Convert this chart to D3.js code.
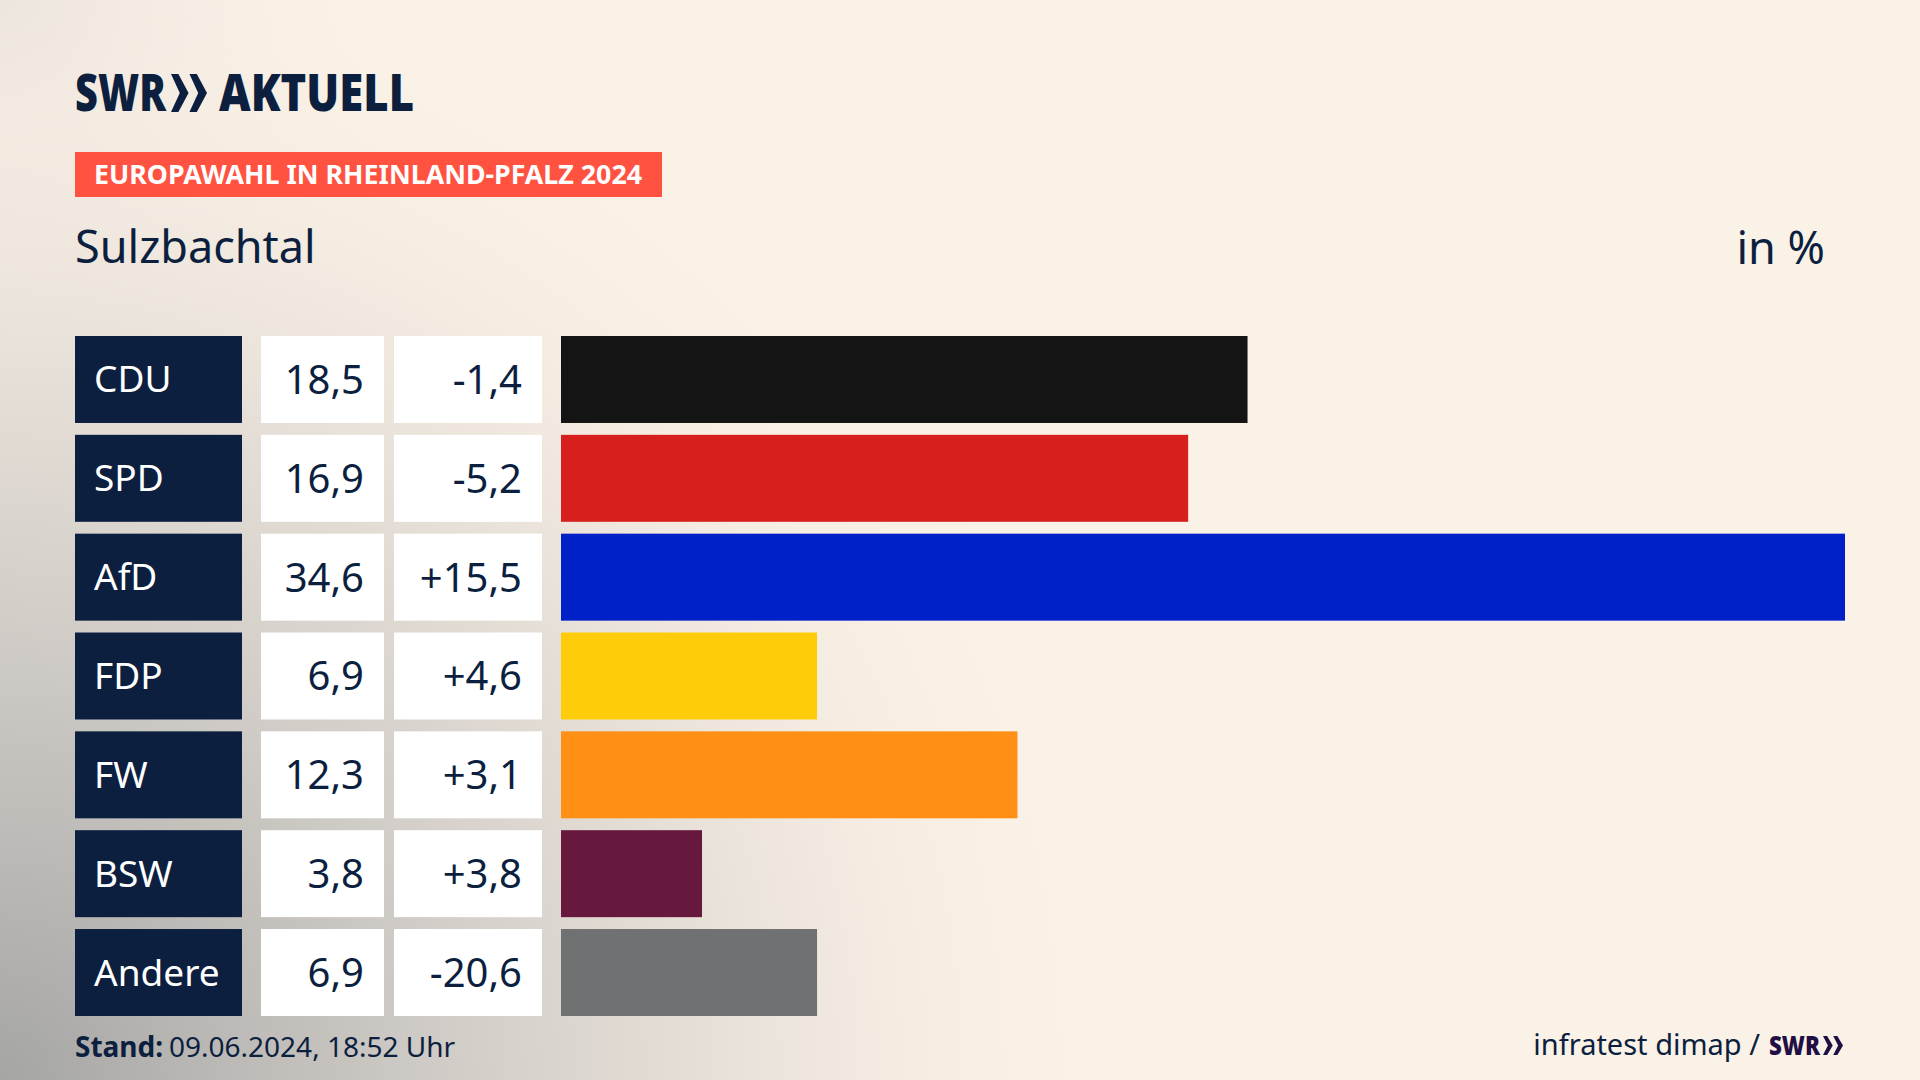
<!DOCTYPE html>
<html lang="de"><head><meta charset="utf-8">
<script src="https://cdn.jsdelivr.net/npm/d3@7/dist/d3.min.js"></script>
<style>html,body{margin:0;padding:0;background:#FAF1E7}svg{display:block}text{font-family:"Noto Sans",sans-serif}</style>
</head><body><svg id="c" width="1920" height="1080"></svg>
<script>
const parties = ["CDU","SPD","AfD","FDP","FW","BSW","Andere"];
const shares = [18.5,16.9,34.6,6.9,12.3,3.8,6.9];
const changes = [-1.4,-5.2,15.5,4.6,3.1,3.8,-20.6];
const partyColors = ["#141414","#D7201D","#0021C8","#FFCC0A","#FF9015","#66183D","#707173"];
const badge = "EUROPAWAHL IN RHEINLAND-PFALZ 2024";
const subject = "Sulzbachtal";
const unit = "in %";
const stand = ["Stand:","09.06.2024, 18:52 Uhr"];
const source = "infratest dimap /";

const NAVY="#0C1F3F", W=1920, H=1080;
const svg=d3.select("#c"), defs=svg.append("defs");
const grad=(id,cx,cy,r,stops)=>{const g=defs.append("radialGradient").attr("id",id).attr("gradientUnits","userSpaceOnUse").attr("cx",cx).attr("cy",cy).attr("r",r);
  stops.forEach(s=>g.append("stop").attr("offset",s[0]).attr("stop-color",s[1]).attr("stop-opacity",s[2]));};
grad("g1",0,1080,1150,[[0,"#A5A5A4",1],[0.3,"#C4C1BD",0.95],[0.6,"#DFD9D2",0.8],[0.85,"#F3EADF",0.35],[1,"#FAF1E7",0]]);
grad("g2",0,0,420,[[0,"#E9E2DA",0.9],[1,"#FAF1E7",0]]);
svg.append("rect").attr("width",W).attr("height",H).attr("fill","#FAF1E7");
svg.append("rect").attr("width",W).attr("height",H).attr("fill","url(#g2)");
svg.append("rect").attr("width",W).attr("height",H).attr("fill","url(#g1)");

const fit=(sel,len)=>sel.attr("textLength",len).attr("lengthAdjust","spacingAndGlyphs");
// logo
const chev=(g,x,y,w,h,fill)=>{const u=w/2.05;
  [0,1.05].forEach(k=>g.append("path").attr("fill",fill).attr("d",d3.line()([[x+k*u,y],[x+k*u+u*0.42,y],[x+k*u+u,y+h/2],[x+k*u+u*0.42,y+h],[x+k*u,y+h],[x+k*u+u*0.5,y+h/2]])+"Z"));};
fit(svg.append("text").attr("x",75).attr("y",111).attr("font-size",52).attr("font-weight",900).attr("fill",NAVY).text("SWR"),91);
chev(svg,171,74,36,38,NAVY);
fit(svg.append("text").attr("x",219).attr("y",111).attr("font-size",52).attr("font-weight",900).attr("fill",NAVY).text("AKTUELL"),195);
// badge
svg.append("rect").attr("x",75).attr("y",152).attr("width",587).attr("height",45).attr("fill","#FF5240");
fit(svg.append("text").attr("x",94).attr("y",184).attr("font-size",27).attr("font-weight",700).attr("fill","#fff").text(badge),548);
svg.append("text").attr("x",75).attr("y",263).attr("font-size",45).attr("fill",NAVY).text(subject);
svg.append("text").attr("x",1825).attr("y",264).attr("font-size",45).attr("text-anchor","end").attr("fill",NAVY).text(unit);

// rows
const y=d3.scaleBand().domain(parties).range([336,1016]).paddingInner(0.12);
const x=d3.scaleLinear().domain([0,34.6]).range([561,1845]);
const rows=svg.selectAll("g.row").data(parties.map((p,i)=>({p,s:shares[i],c:changes[i],col:partyColors[i]}))).join("g").attr("class","row")
  .attr("transform",d=>`translate(0,${y(d.p)})`);
const bh=y.bandwidth();
rows.append("rect").attr("x",75).attr("width",167).attr("height",bh).attr("fill",NAVY);
rows.append("rect").attr("x",261).attr("width",123).attr("height",bh).attr("fill","#fff");
rows.append("rect").attr("x",394).attr("width",148).attr("height",bh).attr("fill","#fff");
rows.append("rect").attr("x",x(0)).attr("width",d=>x(d.s)-x(0)).attr("height",bh).attr("fill",d=>d.col);
rows.append("text").attr("x",94).attr("y",bh/2+13).attr("font-size",37).attr("fill","#fff").text(d=>d.p);
const num=v=>v.toFixed(1).replace(".",",");
rows.append("text").attr("x",364).attr("y",bh/2+14.5).attr("text-anchor","end").attr("font-size",40).attr("fill",NAVY).text(d=>num(d.s));
rows.append("text").attr("x",522).attr("y",bh/2+14.5).attr("text-anchor","end").attr("font-size",40).attr("fill",NAVY).text(d=>(d.c>0?"+":"")+num(d.c));

// footer
svg.append("text").attr("x",75).attr("y",1057).attr("font-size",28).attr("font-weight",700).attr("fill",NAVY).text(stand[0]);
svg.append("text").attr("x",169).attr("y",1057).attr("font-size",28).attr("fill",NAVY).text(stand[1]);
svg.append("text").attr("x",1760).attr("y",1055).attr("font-size",29).attr("text-anchor","end").attr("fill",NAVY).text(source);
fit(svg.append("text").attr("x",1769).attr("y",1055).attr("font-size",27).attr("font-weight",900).attr("fill","#1F0F45").text("SWR"),51);
chev(svg,1823,1036,20,19,"#1F0F45");
</script></body></html>
